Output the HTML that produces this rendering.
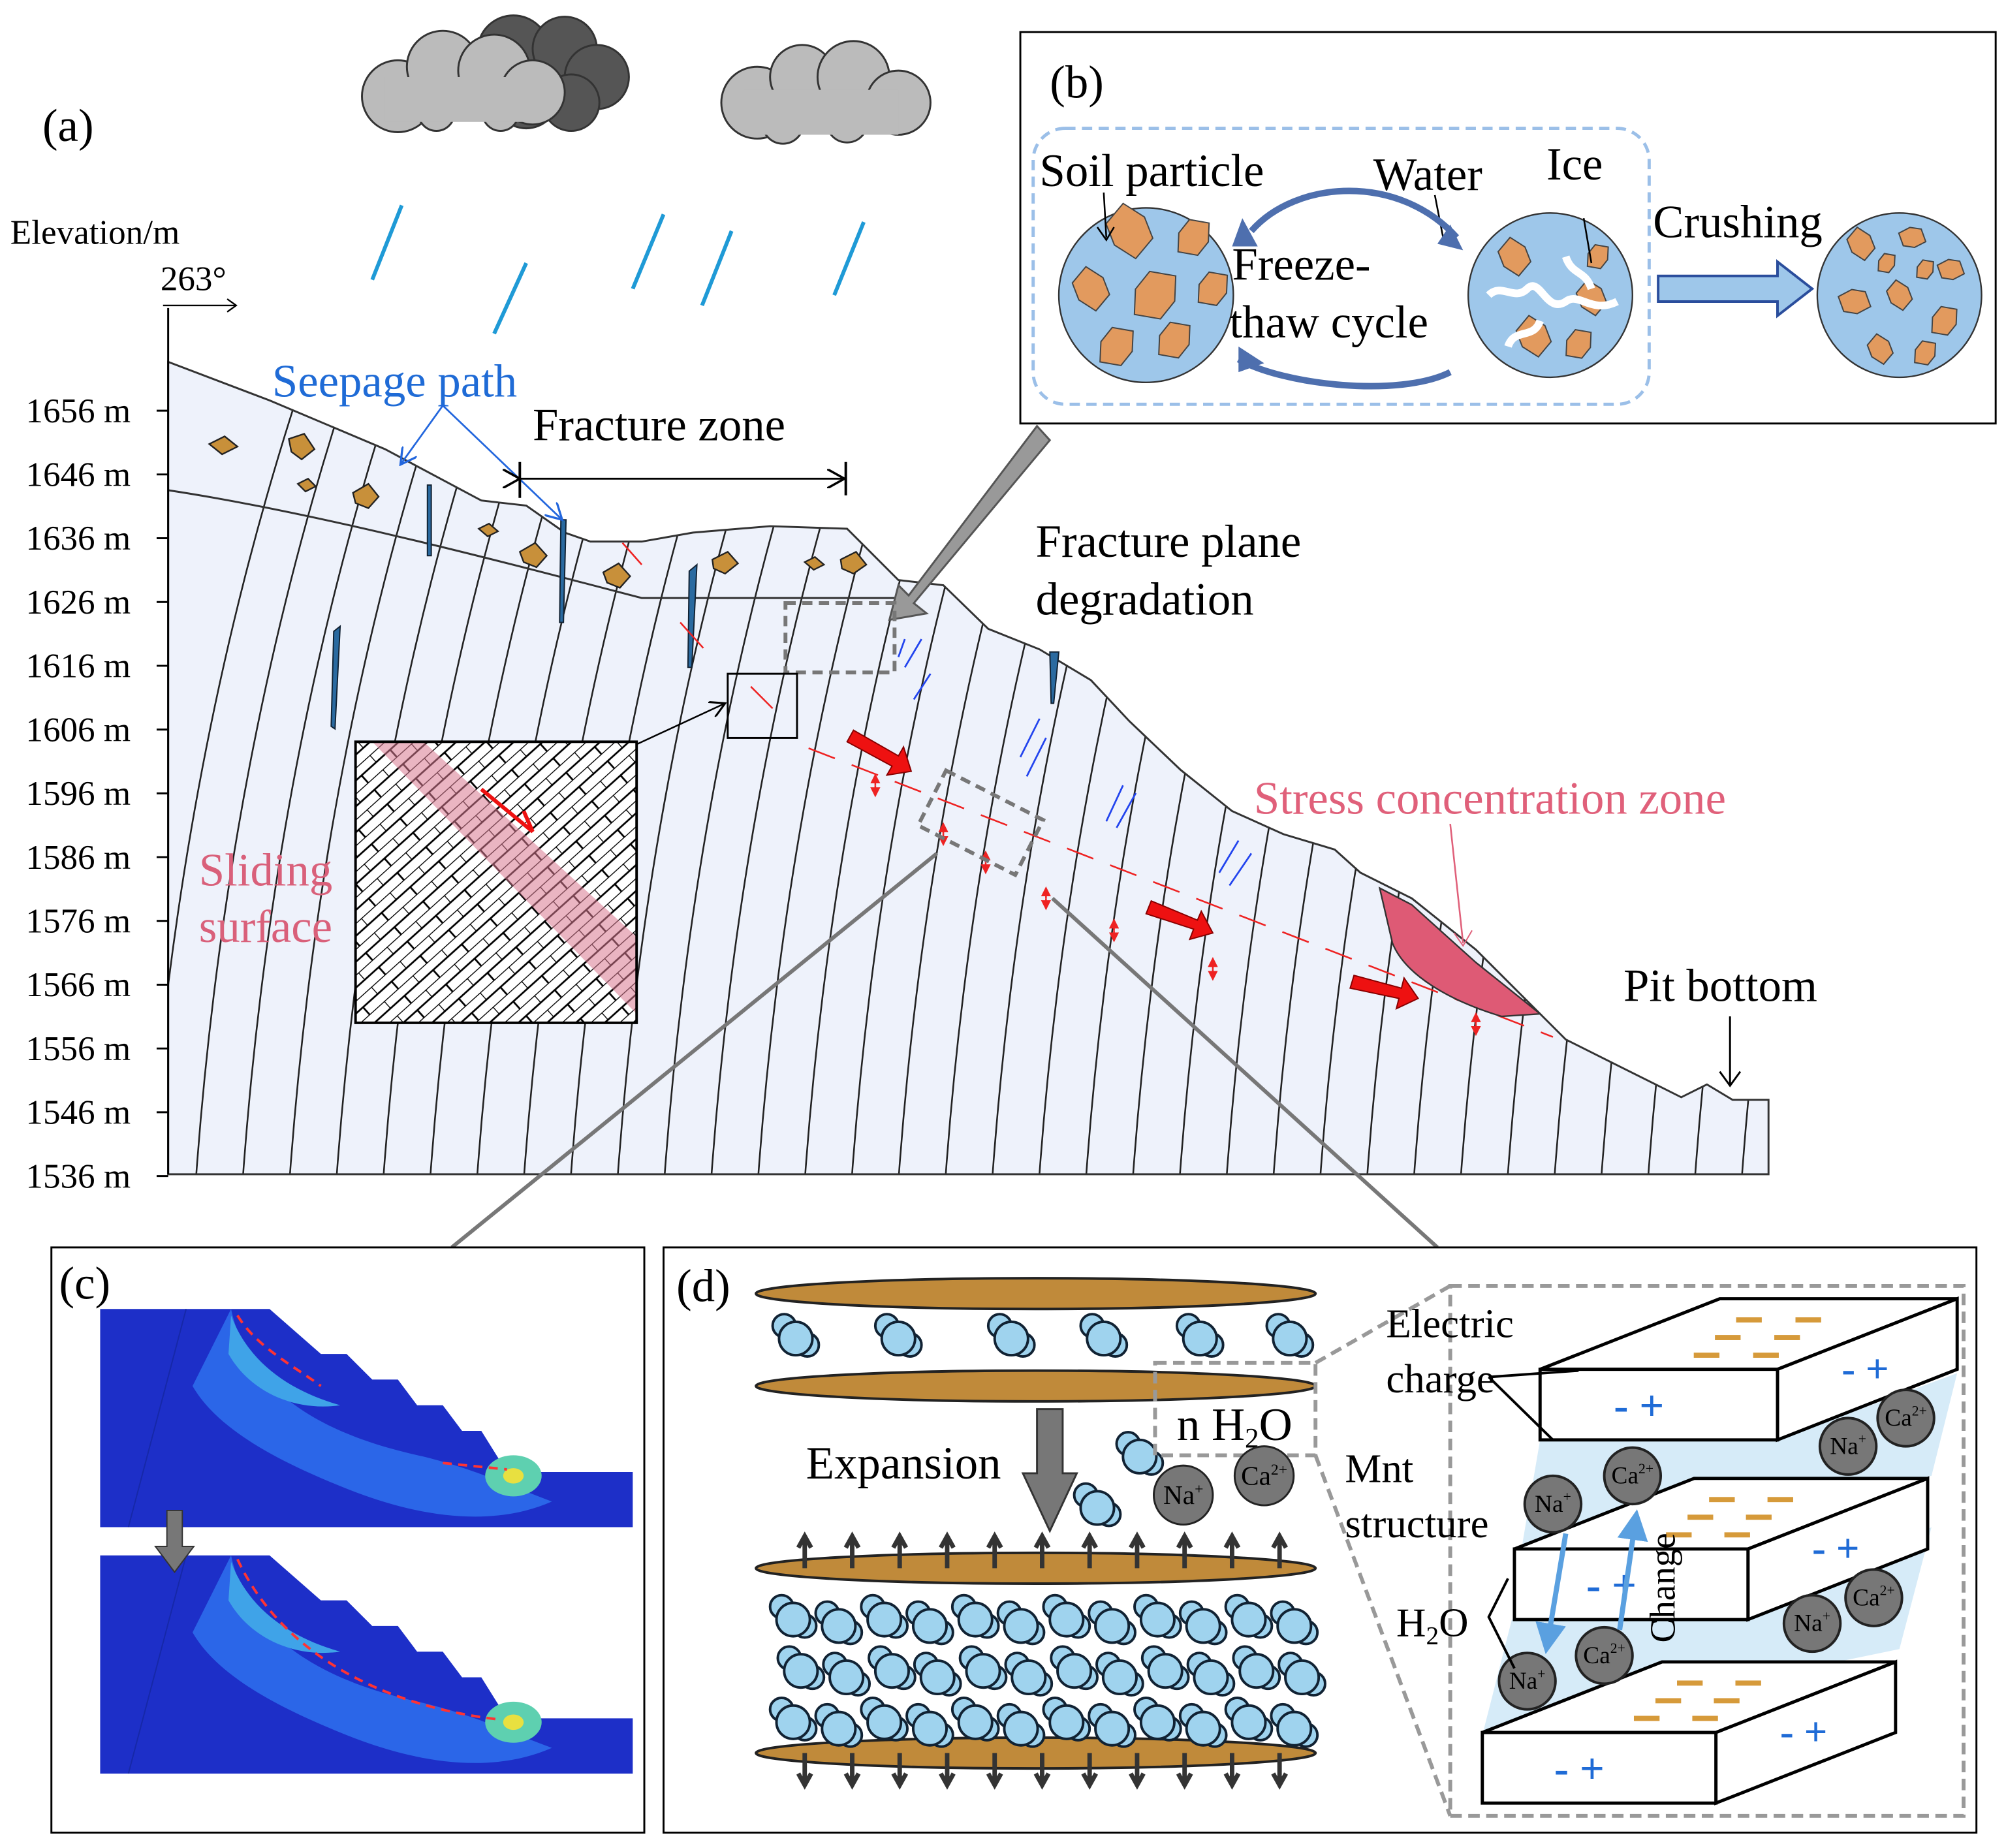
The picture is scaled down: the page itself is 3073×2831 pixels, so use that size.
<!DOCTYPE html>
<html><head><meta charset="utf-8"><style>
html,body{margin:0;padding:0;background:#fff}
svg{display:block}
text{font-family:"Liberation Serif",serif}
</style></head><body>
<svg id="s" width="3073" height="2831" viewBox="0 0 1563 1440" xmlns="http://www.w3.org/2000/svg">
<defs>
<clipPath id="slope"><path id="slopeP" d="M131,282 L210,312 L300,350 L375,390 L410,394 L440,415 L460,422 L500,422 L540,415 L600,410 L660,412 L700,452 L735,456 L770,490 L810,506 L850,530 L880,562 L920,600 L960,632 L1000,650 L1040,662 L1060,680 L1100,700 L1150,740 L1200,790 L1220,810 L1260,830 L1310,855 L1330,845 L1350,857 L1378,857 L1378,915 L131,915 Z"/></clipPath>
<pattern id="brick" width="30" height="15" patternUnits="userSpaceOnUse" patternTransform="rotate(-42)">
<rect width="30" height="15" fill="#fff"/>
<path d="M0,0H30M0,7.5H30M0,0V7.5M15,7.5V15" stroke="#000" stroke-width="1.4" fill="none"/>
</pattern>
<clipPath id="inset"><rect x="277" y="578" width="219" height="219"/></clipPath>
<marker id="ah" markerWidth="10" markerHeight="10" refX="9" refY="5" orient="auto"><path d="M0,0L9,5L0,10" fill="none" stroke="#000" stroke-width="1.2"/></marker>
<marker id="ahb" markerWidth="10" markerHeight="10" refX="9" refY="5" orient="auto"><path d="M0,0L9,5L0,10" fill="none" stroke="#2266dd" stroke-width="1.2"/></marker>
<marker id="ahr" markerWidth="6" markerHeight="6" refX="5" refY="3" orient="auto"><path d="M0,0L6,3L0,6Z" fill="#e22"/></marker>
<marker id="ahl" markerWidth="6" markerHeight="6" refX="5" refY="3" orient="auto"><path d="M0,0L6,3L0,6Z" fill="#5aa0e0"/></marker>
</defs>

<!-- clouds -->
<g stroke="#333" stroke-width="1.5">
<g fill="#555"><circle cx="400" cy="40" r="28"/><circle cx="440" cy="38" r="25"/><circle cx="465" cy="60" r="25"/><circle cx="445" cy="80" r="22"/><circle cx="410" cy="75" r="25"/></g>
<g fill="#bbb"><circle cx="310" cy="75" r="28"/><circle cx="345" cy="52" r="28"/><circle cx="385" cy="55" r="28"/><circle cx="415" cy="72" r="25"/><circle cx="390" cy="88" r="14"/><circle cx="340" cy="88" r="14"/>
<circle cx="590" cy="80" r="28"/><circle cx="625" cy="60" r="25"/><circle cx="665" cy="60" r="28"/><circle cx="700" cy="80" r="25"/><circle cx="660" cy="95" r="16"/><circle cx="610" cy="96" r="16"/></g>
</g>
<g fill="#bbb"><rect x="300" y="60" width="110" height="35"/><rect x="580" y="70" width="120" height="35"/></g>
<g stroke="#1f9ad6" stroke-width="3"><line x1="313" y1="160" x2="290" y2="218"/><line x1="410" y1="205" x2="385" y2="260"/><line x1="517" y1="167" x2="493" y2="225"/><line x1="570" y1="180" x2="547" y2="238"/><line x1="673" y1="173" x2="650" y2="230"/></g>

<text x="33" y="110" font-size="36">(a)</text>
<text x="8" y="190" font-size="27">Elevation/m</text>
<text x="125" y="226" font-size="27">263°</text>
<path d="M127,238H183M177,233L184,238L177,243" stroke="#000" fill="none" stroke-width="1.2"/>

<!-- slope -->
<use href="#slopeP" fill="#eef2fb"/>
<g id="lines" clip-path="url(#slope)" stroke="#222" stroke-width="1.3" fill="none"></g>
<use href="#slopeP" fill="none" stroke="#333" stroke-width="1.5"/>
<path d="M131,382 C250,400 400,440 500,466 L700,466" stroke="#333" stroke-width="1.5" fill="none"/>
<path d="M131,240 V915" stroke="#000" stroke-width="1.5"/>
<g id="axis" font-size="27"></g>

<!-- rocks -->
<g fill="#c8903a" stroke="#222" stroke-width="1.2">
<path d="M163,346l12,-6l10,8l-12,6z"/><path d="M225,342l12,-4l8,12l-10,8l-8,-6z"/><path d="M232,377l8,-4l6,6l-8,4z"/><path d="M275,384l12,-7l8,10l-8,9l-10,-4z"/><path d="M373,412l8,-4l7,6l-8,4z"/><path d="M405,430l12,-7l9,10l-8,9l-10,-4z"/><path d="M470,446l12,-7l9,10l-8,9l-10,-4z"/><path d="M555,436l12,-6l8,9l-10,8l-9,-4z"/><path d="M627,438l8,-4l7,6l-8,4z"/><path d="M655,436l12,-6l8,10l-10,7l-9,-4z"/>
</g>
<g fill="#2a6aa0" stroke="#123" stroke-width="1"><path d="M333,378l3,0l0,55l-3,0z"/><path d="M437,405l4,0l-2,80l-3,0z"/><path d="M537,445l6,-5l-4,80l-3,0z"/><path d="M260,492l5,-4l-4,80l-3,-2z"/><path d="M818,508l7,0l-4,40l-2,0z"/></g>

<!-- texts -->
<text x="212" y="309" font-size="36" fill="#1f6bd6">Seepage path</text>
<g stroke="#2266dd" stroke-width="1.4" fill="none"><path d="M345,316L312,362" marker-end="url(#ahb)"/><path d="M345,316L438,405" marker-end="url(#ahb)"/></g>
<text x="415" y="343" font-size="36">Fracture zone</text>
<path d="M405,373H658" stroke="#000" stroke-width="1.5" marker-end="url(#ah)" marker-start="url(#ah)"/>
<path d="M405,360V388M659,360V386" stroke="#000" stroke-width="2"/>
<text x="807" y="434" font-size="36">Fracture plane</text>
<text x="807" y="479" font-size="36">degradation</text>
<path d="M808,332L818,343L712,470L722,478L693,483L700,456L708,464Z" fill="#999" stroke="#555" stroke-width="1.5"/>
<rect x="612" y="470" width="85" height="54" fill="none" stroke="#777" stroke-width="3" stroke-dasharray="8,5"/>
<rect x="567" y="525" width="54" height="50" fill="none" stroke="#000" stroke-width="1.5"/>
<path d="M496,580L565,548" stroke="#000" stroke-width="1.3" marker-end="url(#ah)"/>

<!-- inset -->
<g clip-path="url(#inset)"><rect x="277" y="578" width="219" height="219" fill="url(#brick)"/>
<path d="M290,578L330,578L496,730L496,790Z" fill="#d9788f" opacity="0.55"/></g>
<rect x="277" y="578" width="219" height="219" fill="none" stroke="#000" stroke-width="2"/>
<path d="M375,615L415,648L408,632" stroke="#e11" stroke-width="3" fill="none"/>
<text x="155" y="690" font-size="36" fill="#d9607a">Sliding</text>
<text x="155" y="734" font-size="36" fill="#d9607a">surface</text>

<!-- red stuff -->
<path d="M630,583L1210,808" stroke="#e22" stroke-width="1.3" stroke-dasharray="22,14" fill="none"/>
<path d="M485,423L500,440M530,485L548,505M585,535L602,552" stroke="#e22" stroke-width="1.3"/>
<g fill="#e11" stroke="#800" stroke-width="1"><path d="M660,578l5,-9l35,20l4,-7l6,19l-19,3l4,-7z"/><path d="M893,712l4,-10l36,15l3,-7l9,17l-18,5l3,-8z"/><path d="M1052,770l3,-10l37,10l2,-8l11,16l-17,8l2,-8z"/></g>
<g stroke="#e22" stroke-width="1.3" id="redt"></g>
<rect x="712" y="615" width="85" height="48" transform="rotate(27 755 660)" fill="none" stroke="#777" stroke-width="3" stroke-dasharray="8,5"/>
<path d="M1075,692L1100,705L1150,750L1200,790L1170,792C1130,780 1095,760 1085,735Z" fill="#de5a75" stroke="#333" stroke-width="1.2"/>
<text x="977" y="634" font-size="36" fill="#e0607a">Stress concentration zone</text>
<path d="M1130,642L1140,735" stroke="#e0607a" stroke-width="1.3" fill="none"/><path d="M1133,727L1140,737L1147,725" stroke="#e0607a" fill="none"/>
<text x="1265" y="780" font-size="36">Pit bottom</text>
<path d="M1348,792V845M1340,835L1348,846L1356,835" stroke="#000" stroke-width="1.5" fill="none"/>
<g stroke="#2244ee" stroke-width="1.4" fill="none">
<path d="M705,520L718,498M700,512L705,498"/><path d="M712,545L725,525"/>
<path d="M795,590L810,560M800,605L815,575"/><path d="M862,640L875,612M870,645L885,618"/><path d="M950,680L965,655M958,690L975,665"/>
</g>

<path d="M730,665L352,972M820,700L1120,972" stroke="#777" stroke-width="3"/>

<!-- (b) -->
<rect x="795" y="25" width="760" height="305" fill="#fff" stroke="#000" stroke-width="1.5"/>
<text x="818" y="76" font-size="36">(b)</text>
<rect x="805" y="100" width="480" height="215" rx="25" fill="none" stroke="#9bbfe8" stroke-width="2.5" stroke-dasharray="8,5"/>
<g stroke="#333" stroke-width="1.2">
<circle cx="893" cy="230" r="68" fill="#9ec7ea"/><circle cx="1208" cy="230" r="64" fill="#9ec7ea"/><circle cx="1480" cy="230" r="64" fill="#9ec7ea"/>
</g>
<g fill="#e29a5e" stroke="#444" stroke-width="1" id="grains"></g>
<path d="M1160,230c10,-10 20,5 30,-5s15,20 30,10c10,-8 20,10 40,0M1175,270c5,-15 20,-5 25,-20M1220,200c5,15 15,10 20,25" stroke="#fff" stroke-width="6" fill="none"/>
<text x="810" y="145" font-size="36">Soil particle</text>
<text x="1070" y="148" font-size="36">Water</text>
<text x="1205" y="140" font-size="36">Ice</text>
<text x="960" y="218" font-size="36">Freeze-</text>
<text x="958" y="263" font-size="36">thaw cycle</text>
<text x="1288" y="185" font-size="36">Crushing</text>
<path d="M860,150L862,185M855,177L862,187L868,177" stroke="#000" fill="none" stroke-width="1.3"/>
<path d="M1118,152L1125,188M1234,170L1240,205" stroke="#000" fill="none" stroke-width="1.3"/>
<path d="M975,180C1010,140 1090,135 1135,185" stroke="#4e6fae" stroke-width="5" fill="none"/>
<path d="M1130,290C1090,310 1000,300 965,280" stroke="#4e6fae" stroke-width="5" fill="none"/>
<path d="M968,170L980,192L960,192Z M1130,175L1140,195L1120,190Z M965,270L985,283L965,290Z" fill="#4e6fae"/>
<path d="M1292,215H1385V204L1412,225L1385,246V235H1292Z" fill="#9ec7ea" stroke="#2a4d9c" stroke-width="2"/>

<!-- (c) -->
<rect x="40" y="972" width="462" height="456" fill="#fff" stroke="#000" stroke-width="1.5"/>
<text x="46" y="1012" font-size="36">(c)</text>
<g id="cimg"></g>
<path d="M130,1177h12v28h9l-15,20l-15,-20h9z" fill="#777" stroke="#333"/>

<!-- (d) -->
<rect x="517" y="972" width="1023" height="456" fill="#fff" stroke="#000" stroke-width="1.5"/>
<text x="527" y="1014" font-size="36">(d)</text>
<g fill="#c08a3a" stroke="#222" stroke-width="2">
<ellipse cx="807" cy="1008" rx="218" ry="12"/><ellipse cx="807" cy="1080" rx="218" ry="12"/><ellipse cx="807" cy="1222" rx="218" ry="12"/><ellipse cx="807" cy="1366" rx="218" ry="12"/>
</g>
<g id="water"></g>
<path d="M808,1098h20v50h11l-21,45l-21,-45h11z" fill="#777" stroke="#333" stroke-width="1.5"/>
<text x="628" y="1152" font-size="36">Expansion</text>
<rect x="900" y="1062" width="125" height="72" fill="none" stroke="#999" stroke-width="3" stroke-dasharray="9,5"/>
<text x="917" y="1122" font-size="36">n H<tspan font-size="22" dy="6">2</tspan><tspan dy="-6">O</tspan></text>
<g fill="#777" stroke="#222" stroke-width="1.5"><circle cx="922" cy="1165" r="23"/><circle cx="985" cy="1150" r="23"/></g>
<text x="922" y="1172" font-size="21" text-anchor="middle">Na<tspan font-size="12" dy="-8">+</tspan></text>
<text x="985" y="1157" font-size="21" text-anchor="middle">Ca<tspan font-size="12" dy="-8">2+</tspan></text>
<path d="M1025,1062L1130,1002M1025,1134L1130,1415" stroke="#999" stroke-width="3" stroke-dasharray="9,5"/>
<rect x="1130" y="1002" width="400" height="413" fill="none" stroke="#999" stroke-width="3" stroke-dasharray="9,5"/>
<g id="slabs"></g>
<text x="1080" y="1042" font-size="32">Electric</text>
<text x="1080" y="1085" font-size="32">charge</text>
<path d="M1160,1073L1230,1068M1160,1073L1210,1122" stroke="#000" stroke-width="2"/>
<text x="1048" y="1155" font-size="32">Mnt</text>
<text x="1048" y="1198" font-size="32">structure</text>
<text x="1088" y="1275" font-size="32">H<tspan font-size="20" dy="6">2</tspan><tspan dy="-6">O</tspan></text>
<path d="M1175,1230L1160,1260L1180,1300" stroke="#000" stroke-width="2" fill="none"/>
<text x="0" y="0" font-size="28" transform="translate(1305,1280) rotate(-90)">Change</text>
</svg>
<script>
const NS="http://www.w3.org/2000/svg";
function el(p,t,a,txt){const e=document.createElementNS(NS,t);for(const k in a)e.setAttribute(k,a[k]);if(txt!==undefined)e.textContent=txt;document.getElementById(p).appendChild(e);return e;}
for(let i=0;i<36;i++){const x=135+i*36.5;el("lines","path",{d:`M${x-20},935 Q${x+5},560 ${x+120},240`});}
for(let i=0;i<13;i++){const y=320+i*49.7;el("axis","text",{x:20,y:y+9},(1656-i*10)+" m");el("axis","line",{x1:122,y1:y,x2:131,y2:y,stroke:"#000","stroke-width":1.5});}
[[682,612],[735,650],[768,672],[815,700],[868,725],[945,755],[1150,798]].forEach(p=>{el("redt","path",{d:`M${p[0]},${p[1]}l0,-8`,"marker-end":"url(#ahr)"});el("redt","path",{d:`M${p[0]},${p[1]}l0,8`,"marker-end":"url(#ahr)"});});
const g=[[880,180,20],[930,185,15],[850,225,16],[900,230,20],[945,225,14],[870,270,16],[915,265,15],[1180,200,14],[1240,232,13],[1195,262,15],[1230,268,12],[1245,200,10],[1450,190,12],[1490,185,10],[1520,210,10],[1445,235,12],[1480,230,11],[1515,250,12],[1465,272,11],[1500,275,10],[1470,205,8],[1500,210,8]];
g.forEach(([x,y,r])=>{let d="";for(let k=0;k<6;k++){const a=k*Math.PI/3+0.3,rr=r*(0.8+0.3*((k*7+x)%3)/2);d+=(k?"L":"M")+(x+rr*Math.cos(a)).toFixed(1)+","+(y+rr*Math.sin(a)).toFixed(1);}el("grains","path",{d:d+"Z"});});
function cimg(y0,curve){
 const pts=`78,${y0} 210,${y0} 250,${y0+35} 270,${y0+35} 290,${y0+55} 310,${y0+55} 325,${y0+75} 345,${y0+75} 360,${y0+95} 375,${y0+95} 395,${y0+127} 493,${y0+127} 493,${y0+170} 78,${y0+170}`;
 el("cimg","polygon",{points:pts,fill:"#1d2fc8"});
 el("cimg","path",{d:`M180,${y0} C195,${y0+70} 260,${y0+100} 330,${y0+115} C370,${y0+125} 390,${y0+135} 430,${y0+150} C380,${y0+172} 320,${y0+160} 270,${y0+140} C220,${y0+120} 170,${y0+95} 150,${y0+60} Z`,fill:"#2b66e8"});
 el("cimg","path",{d:`M180,${y0+5} C195,${y0+45} 230,${y0+65} 265,${y0+75} C230,${y0+80} 195,${y0+65} 178,${y0+35}Z`,fill:"#3fa3e8"});
 el("cimg","ellipse",{cx:400,cy:y0+130,rx:22,ry:16,fill:"#5ed0b0"});
 el("cimg","ellipse",{cx:400,cy:y0+130,rx:8,ry:6,fill:"#e8e040"});
 el("cimg","line",{x1:145,y1:y0,x2:100,y2:y0+170,stroke:"#1628a8","stroke-width":1});
 el("cimg","path",{d:curve,stroke:"#f33","stroke-width":2,"stroke-dasharray":"7,5",fill:"none"});
}
cimg(1020,"M185,1025 C200,1050 230,1065 250,1080 M345,1140 L395,1145");
cimg(1212,"M185,1215 C220,1290 300,1330 390,1340");
function mol(x,y){el("water","circle",{cx:x-9,cy:y-10,r:9,fill:"#9fd3ee",stroke:"#123","stroke-width":2});el("water","circle",{cx:x+9,cy:y+5,r:9,fill:"#9fd3ee",stroke:"#123","stroke-width":2});el("water","circle",{cx:x,cy:y,r:13,fill:"#9fd3ee",stroke:"#123","stroke-width":2});}
[620,700,788,860,935,1005].forEach(x=>mol(x,1043));
mol(888,1135);mol(855,1175);
for(let r=0;r<3;r++)for(let c=0;c<12;c++){mol(618+c*35.5+(r%2)*6,1262+r*40+((c%2)*5));}
for(let c=0;c<11;c++){const x=627+c*37;el("water","path",{d:`M${x},1222V1198M${x-5},1206L${x},1197L${x+5},1206M${x},1366V1390M${x-5},1382L${x},1391L${x+5},1382`,stroke:"#333","stroke-width":3.5,fill:"none"});}
const bl="#d6ebf8";
el("slabs","polygon",{points:"1200,1122 1385,1122 1525,1070 1505,1150 1185,1210",fill:bl});
el("slabs","polygon",{points:"1178,1262 1360,1262 1505,1190 1480,1285 1155,1352",fill:bl});
function slab(x,y,w,h,dx,dy,neg){
 el("slabs","polygon",{points:`${x},${y} ${x+dx},${y-dy} ${x+dx+w},${y-dy} ${x+w},${y}`,fill:"#fff",stroke:"#000","stroke-width":2.5});
 el("slabs","polygon",{points:`${x+w},${y} ${x+w+dx},${y-dy} ${x+w+dx},${y-dy+h} ${x+w},${y+h}`,fill:"#fff",stroke:"#000","stroke-width":2.5});
 el("slabs","rect",{x:x,y:y,width:w,height:h,fill:"#fff",stroke:"#000","stroke-width":2.5});
 el("slabs","text",{x:x+w/2-35,y:y+h/2+12,"font-size":34,"font-weight":"bold",fill:"#1f6bd6","font-family":"Liberation Sans"},"- +");
 el("slabs","text",{x:x+w+dx/2-20,y:y-dy/2+h/2+10,"font-size":32,"font-weight":"bold",fill:"#1f6bd6","font-family":"Liberation Sans"},"- +");
 if(neg)[[0.35,0.3],[0.6,0.3],[0.45,0.55],[0.7,0.55],[0.55,0.8],[0.8,0.8]].forEach(([a,b])=>el("slabs","rect",{x:x+dx*(1-b)+w*a-10,y:y-dy*(1-b)-2,width:20,height:4,fill:"#d69a3a"}));
}
slab(1200,1067,185,55,140,55,1);
slab(1180,1207,182,55,140,55,1);
slab(1155,1350,182,55,140,55,1);
function ion(x,y,t,s){el("slabs","circle",{cx:x,cy:y,r:22,fill:"#777",stroke:"#222","stroke-width":2});const e=el("slabs","text",{x:x,y:y+6,"font-size":19,"text-anchor":"middle"},t);const sp=document.createElementNS(NS,"tspan");sp.setAttribute("font-size",11);sp.setAttribute("dy",-8);sp.textContent=s;e.appendChild(sp);}
ion(1440,1127,"Na","+");ion(1485,1105,"Ca","2+");ion(1210,1172,"Na","+");ion(1272,1150,"Ca","2+");
ion(1412,1265,"Na","+");ion(1460,1245,"Ca","2+");ion(1190,1310,"Na","+");ion(1250,1290,"Ca","2+");
el("slabs","path",{d:"M1220,1195L1205,1285",stroke:"#5aa0e0","stroke-width":4,"marker-end":"url(#ahl)"});
el("slabs","path",{d:"M1262,1270L1275,1180",stroke:"#5aa0e0","stroke-width":4,"marker-end":"url(#ahl)"});
</script>
</body></html>
